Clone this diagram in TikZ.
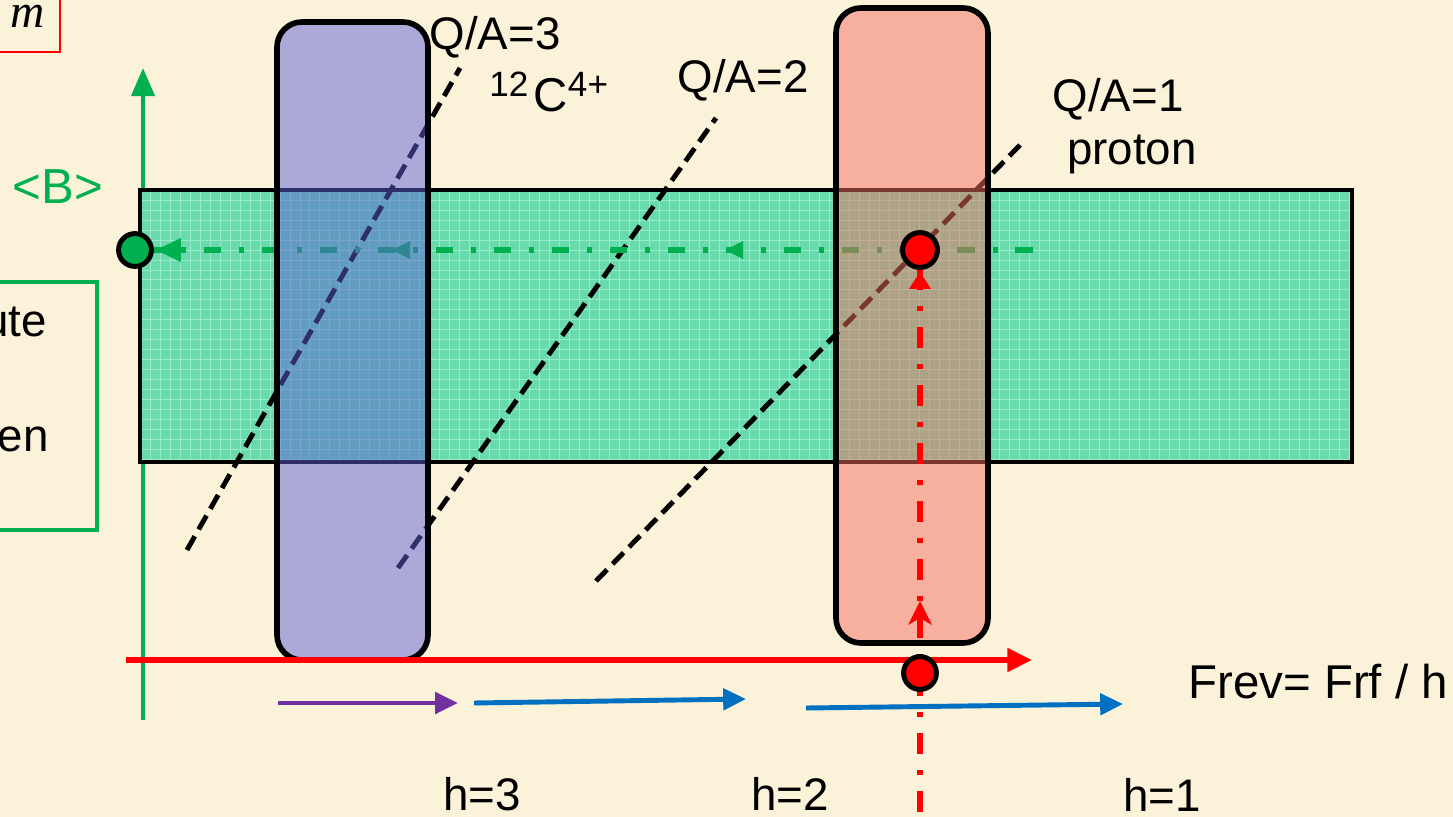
\documentclass[tikz,border=0pt]{standalone}
\usepackage{fontspec}
\setmainfont{Liberation Sans}
\newfontfamily\tms{Liberation Serif}
\usetikzlibrary{arrows.meta}
\definecolor{bg}{RGB}{251,242,218}
\definecolor{tealfill}{RGB}{104,218,172}
\definecolor{tealgrid}{RGB}{150,235,200}
\definecolor{gaxis}{RGB}{0,176,80}
\definecolor{bluefill}{RGB}{95,95,215}
\definecolor{redfill}{RGB}{245,110,100}
\definecolor{purp}{RGB}{112,48,160}
\definecolor{blu}{RGB}{0,112,192}
\definecolor{rd}{RGB}{255,0,0}
\tikzset{
  lbl/.style={font=\fontsize{26}{31}\selectfont, inner sep=0pt, anchor=base},
  qaline/.style={black, line width=2.8pt, dash pattern=on 9pt off 4.5pt},
  band/.style={rounded corners=0.5cm, line width=3.2pt, draw=black},
  dot/.style={circle, line width=2.8pt, draw=black, inner sep=0pt},
  gdashdot/.style={gaxis, line width=3pt, dash pattern=on 10pt off 10pt on 3pt off 10pt},
  rdashdot/.style={rd, line width=3pt, dash pattern=on 12pt off 9pt on 3pt off 9pt},
  flow/.style={line width=2.8pt, -{Triangle[length=13pt,width=12pt]}},
}
\begin{document}
\begin{tikzpicture}[x=0.02cm,y=-0.02cm]
\useasboundingbox (0,0) rectangle (1453,817);
\clip (0,0) rectangle (1453,817);
\fill[bg] (0,0) rectangle (1453,817);

% top-left red box with m
\draw[rd, line width=1.2pt, fill=bg] (-20,-20) rectangle (60,52);
\node[inner sep=0pt, anchor=base] (mm) at (28,28) {\tms\itshape\fontsize{27}{32}\selectfont m};

% left green box
\draw[gaxis, line width=2.8pt] (-20,282) rectangle (97,530);
\node[lbl, anchor=base east] (ute) at (47,337) {ute};
\node[lbl, anchor=base east] (en) at (49,451) {en};

% <B>
\node[lbl, gaxis, font=\fontsize{28}{33}\selectfont] (B) at (58,204) {<B>};

% vertical green axis
\coordinate (axb) at (143,720);
\coordinate (axt) at (143,68);
\draw[gaxis, line width=2.6pt, -{Triangle[length=16pt,width=13pt]}] (axb) -- (axt);

% teal band
\fill[tealfill] (140,190) rectangle (1352,462);
\draw[tealgrid, line width=0.5pt, step=0.2cm] (140,190) grid (1352,462);
\draw[black, line width=2.8pt] (140,190) rectangle (1352,462);

% Q/A lines
\coordinate (q3a) at (187,550); \coordinate (q3b) at (460,68);
\coordinate (q2a) at (398,568); \coordinate (q2b) at (716,118);
\coordinate (q1a) at (596,581); \coordinate (q1b) at (1020,145);
\draw[qaline] (q3a) -- (q3b);
\draw[qaline] (q2a) -- (q2b);
\draw[qaline] (q1a) -- (q1b);

% green dash-dot arrow
\coordinate (gstart) at (1033,250);
\coordinate (gm1) at (725,250);
\coordinate (gm2) at (392,250);
\node[dot, fill=gaxis, minimum size=18.7pt] (gdot) at (135,250) {};
\node[dot, fill=rd, minimum size=19.8pt] (rdot) at (920,250) {};
\draw[gdashdot] (gstart) -- (gdot.east);
\foreach \p in {gm1,gm2} \fill[gaxis] (\p) -- ++(18,-9) -- ++(0,18) -- cycle;
\fill[gaxis] (gdot.east) ++(2,0) -- ++(25,-12) -- ++(0,24) -- cycle;

% bands
\draw[band, fill=bluefill, fill opacity=0.5] (277,22) rectangle (428,660);
\draw[band, fill=redfill, fill opacity=0.5] (836,8) rectangle (988,643);

% redraw red dot on top
\node[dot, fill=rd, minimum size=19.8pt] at (920,250) {};

% red vertical dash-dot
\coordinate (rbot) at (920,812);
\coordinate (rmid) at (920,601);
\draw[rdashdot] (rbot) -- (rdot.south);
\fill[rd] (rmid) -- ++(-12,24) -- ++(12,-7) -- ++(12,7) -- cycle;
\fill[rd] (rdot.south) ++(0,2) -- ++(-11,17) -- ++(22,0) -- cycle;

% red horizontal axis
\coordinate (rha) at (126,660);
\coordinate (rhb) at (1032,660);
\draw[rd, line width=3pt, -{Triangle[length=14pt,width=13pt]}] (rha) -- (rhb);
\node[dot, fill=rd, minimum size=18.7pt] (rdot2) at (920,673) {};

% flow arrows
\coordinate (pa) at (278,703); \coordinate (pb) at (458,703);
\coordinate (ba) at (474,703); \coordinate (bb) at (746,699);
\coordinate (ca) at (806,708); \coordinate (cb) at (1123,704);
\draw[flow, purp] (pa) -- (pb);
\draw[flow, blu] (ba) -- (bb);
\draw[flow, blu] (ca) -- (cb);

% labels
\node[lbl] (l3) at (495,50) {Q/A=3};
\node[lbl, anchor=base west] (c12) at (489,112) {\raisebox{9pt}{\fontsize{20}{24}\selectfont 12}\hspace{3pt}{\fontsize{27}{32}\selectfont C}\raisebox{9pt}{\fontsize{20}{24}\selectfont 4+}};
\node[lbl] (l2) at (743,93) {Q/A=2};
\node[lbl] (l1) at (1118,112) {Q/A=1};
\node[lbl] (lp) at (1132,165) {proton};
\node[lbl, anchor=base west, font=\fontsize{27}{32}\selectfont] (fr) at (1188,698) {Frev= Frf / h};
\node[lbl] (h3) at (482,810) {h=3};
\node[lbl] (h2) at (790,810) {h=2};
\node[lbl] (h1) at (1162,811) {h=1};
\end{tikzpicture}
\end{document}
